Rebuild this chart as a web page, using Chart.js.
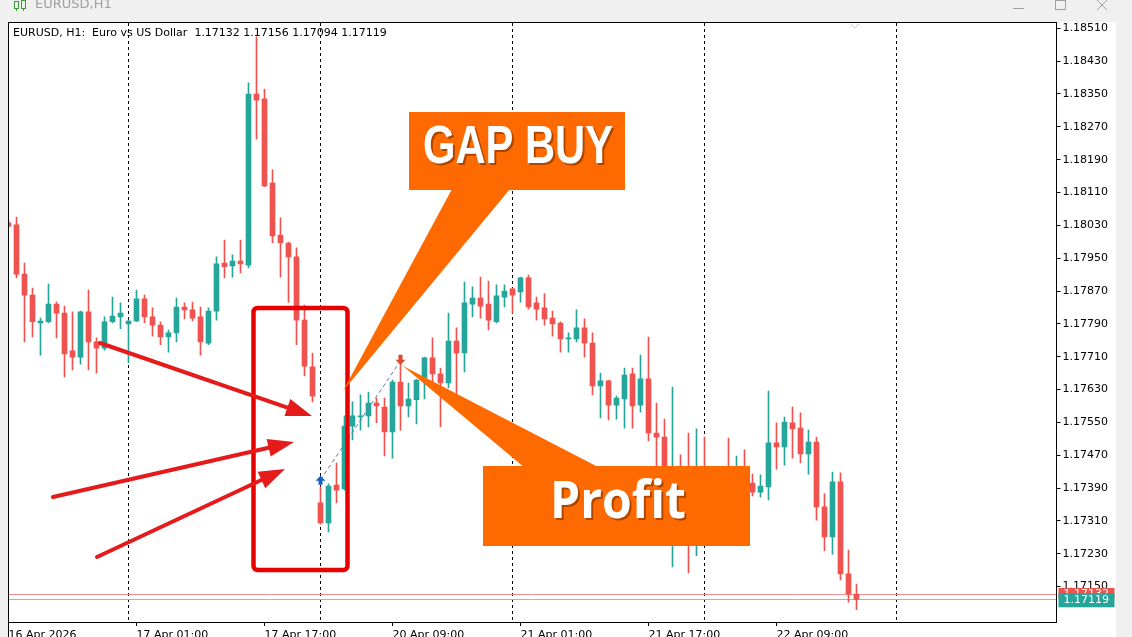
<!DOCTYPE html>
<html>
<head>
<meta charset="utf-8">
<title>EURUSD,H1</title>
<script src="https://cdn.jsdelivr.net/npm/chart.js@4.4.1/dist/chart.umd.min.js"></script>
<style>
  html, body { margin: 0; padding: 0; background: #f0f0f0; }
  #wrap { width: 1132px; height: 637px; }
</style>
</head>
<body>
<div id="wrap"><canvas id="chart" width="1132" height="637"></canvas></div>
<script>
// EURUSD H1 candles, first bar 16 Apr 2026 09:00
const opens = [
  1.18036, 1.18031, 1.17911, 1.17860, 1.17792, 1.17795, 1.17838, 1.17816, 1.17724, 1.17709,
  1.17819, 1.17746, 1.17731, 1.17795, 1.17807, 1.17790, 1.17797, 1.17851, 1.17807, 1.17787,
  1.17758, 1.17768, 1.17831, 1.17824, 1.17807, 1.17743, 1.17821, 1.17938, 1.17931, 1.17943,
  1.17933, 1.18350, 1.18338, 1.18133, 1.18006, 1.17987, 1.17953, 1.17799, 1.17685, 1.17354,
  1.17305, 1.17397, 1.17388, 1.17541, 1.17563, 1.17566, 1.17597, 1.17587, 1.17527, 1.17648,
  1.17590, 1.17605, 1.17658, 1.17707, 1.17668, 1.17646, 1.17748, 1.17719, 1.17838, 1.17853,
  1.17838, 1.17795, 1.17855, 1.17875, 1.17868, 1.17902, 1.17841, 1.17829, 1.17804, 1.17792,
  1.17753, 1.17753, 1.17780, 1.17743, 1.17639, 1.17651, 1.17592, 1.17607, 1.17668, 1.17592,
  1.17656, 1.17524, 1.17514, 1.17361, 1.17397, 1.17312, 1.17251, 1.17337, 1.17288, 1.17361,
  1.17385, 1.17354, 1.17410, 1.17402, 1.17380, 1.17393, 1.17500, 1.17490, 1.17549, 1.17536,
  1.17473, 1.17502, 1.17344, 1.17271, 1.17405, 1.17181, 1.17132
];
const highs = [
  1.18043, 1.18050, 1.17938, 1.17877, 1.17804, 1.17887, 1.17843, 1.17833, 1.17819, 1.17821,
  1.17872, 1.17756, 1.17807, 1.17855, 1.17841, 1.17799, 1.17872, 1.17860, 1.17829, 1.17795,
  1.17775, 1.17853, 1.17841, 1.17843, 1.17831, 1.17829, 1.17953, 1.17994, 1.17958, 1.17994,
  1.18377, 1.18489, 1.18362, 1.18165, 1.18048, 1.17989, 1.17975, 1.17836, 1.17719, 1.17393,
  1.17400, 1.17451, 1.17566, 1.17600, 1.17617, 1.17624, 1.17609, 1.17609, 1.17653, 1.17695,
  1.17646, 1.17655, 1.17709, 1.17756, 1.17682, 1.17816, 1.17780, 1.17892, 1.17880, 1.17904,
  1.17894, 1.17885, 1.17885, 1.17877, 1.17904, 1.17909, 1.17855, 1.17863, 1.17821, 1.17795,
  1.17768, 1.17824, 1.17802, 1.17768, 1.17670, 1.17653, 1.17614, 1.17682, 1.17682, 1.17714,
  1.17758, 1.17597, 1.17558, 1.17636, 1.17471, 1.17524, 1.17534, 1.17514, 1.17434, 1.17422,
  1.17512, 1.17468, 1.17483, 1.17424, 1.17422, 1.17626, 1.17549, 1.17563, 1.17587, 1.17573,
  1.17531, 1.17514, 1.17376, 1.17429, 1.17427, 1.17239, 1.17156
];
const lows = [
  1.18024, 1.17902, 1.17746, 1.17758, 1.17714, 1.17792, 1.17756, 1.17661, 1.17678, 1.17692,
  1.17678, 1.17670, 1.17726, 1.17792, 1.17778, 1.17695, 1.17795, 1.17792, 1.17760, 1.17739,
  1.17721, 1.17746, 1.17802, 1.17797, 1.17714, 1.17739, 1.17799, 1.17902, 1.17904, 1.17914,
  1.17926, 1.18240, 1.18124, 1.17987, 1.17904, 1.17843, 1.17739, 1.17663, 1.17600, 1.17302,
  1.17283, 1.17354, 1.17385, 1.17507, 1.17531, 1.17539, 1.17549, 1.17468, 1.17463, 1.17531,
  1.17563, 1.17546, 1.17607, 1.17641, 1.17539, 1.17634, 1.17612, 1.17673, 1.17807, 1.17804,
  1.17775, 1.17792, 1.17831, 1.17816, 1.17843, 1.17826, 1.17799, 1.17787, 1.17760, 1.17721,
  1.17721, 1.17746, 1.17709, 1.17617, 1.17561, 1.17556, 1.17558, 1.17536, 1.17536, 1.17575,
  1.17505, 1.17434, 1.17354, 1.17198, 1.17288, 1.17183, 1.17225, 1.17263, 1.17276, 1.17337,
  1.17337, 1.17344, 1.17373, 1.17371, 1.17368, 1.17361, 1.17436, 1.17446, 1.17463, 1.17451,
  1.17424, 1.17312, 1.17237, 1.17229, 1.17166, 1.17112, 1.17094
];
const closes = [
  1.18028, 1.17911, 1.17860, 1.17795, 1.17797, 1.17838, 1.17816, 1.17717, 1.17709, 1.17819,
  1.17746, 1.17731, 1.17795, 1.17809, 1.17816, 1.17797, 1.17851, 1.17807, 1.17787, 1.17758,
  1.17768, 1.17831, 1.17824, 1.17804, 1.17746, 1.17821, 1.17936, 1.17929, 1.17943, 1.17936,
  1.18350, 1.18335, 1.18126, 1.18004, 1.17987, 1.17953, 1.17799, 1.17687, 1.17614, 1.17305,
  1.17395, 1.17385, 1.17541, 1.17566, 1.17566, 1.17597, 1.17590, 1.17527, 1.17648, 1.17590,
  1.17607, 1.17653, 1.17707, 1.17668, 1.17646, 1.17748, 1.17719, 1.17841, 1.17853, 1.17833,
  1.17799, 1.17858, 1.17870, 1.17860, 1.17902, 1.17831, 1.17826, 1.17802, 1.17790, 1.17753,
  1.17756, 1.17780, 1.17743, 1.17639, 1.17651, 1.17592, 1.17609, 1.17665, 1.17590, 1.17656,
  1.17524, 1.17514, 1.17361, 1.17397, 1.17312, 1.17251, 1.17337, 1.17288, 1.17361, 1.17385,
  1.17354, 1.17410, 1.17400, 1.17380, 1.17395, 1.17500, 1.17490, 1.17551, 1.17534, 1.17473,
  1.17502, 1.17344, 1.17271, 1.17405, 1.17181, 1.17132, 1.17119
];

// axis
const yTicks = [1.17150, 1.17230, 1.17310, 1.17390, 1.17470, 1.17550, 1.17630, 1.17710,
                1.17790, 1.17870, 1.17950, 1.18030, 1.18110, 1.18190, 1.18270, 1.18350,
                1.18430, 1.18510];
const yMin = 1.170637;
const yMax = 1.185253;
const slotCount = 132;              // visible hourly slots, incl. empty space on the right
const tickSlots = [0, 16, 32, 48, 64, 80, 96];
const tickLabels = ['16 Apr 2026', '17 Apr 01:00', '17 Apr 17:00', '20 Apr 09:00',
                    '21 Apr 01:00', '21 Apr 17:00', '22 Apr 09:00'];
const daySeparators = [15, 39, 63, 87, 111];

// price lines and the trade
const bidPrice = 1.17119;
const askPrice = 1.17132;
const tradeSlots = [39, 49];
const tradePrices = [1.17410, 1.17700];

const upColor = '#26a69a';
const downColor = '#ef5350';

// hourly category labels (weekend hours skipped)
const months = ['Jan','Feb','Mar','Apr','May','Jun','Jul','Aug','Sep','Oct','Nov','Dec'];
const slotLabels = [];
for (let t = Date.UTC(2026, 3, 16, 9); slotLabels.length < slotCount; t += 3600000) {
    const d = new Date(t);
    const wd = d.getUTCDay();
    if (wd === 0 || wd === 6) continue;
    slotLabels.push(d.getUTCDate() + ' ' + months[d.getUTCMonth()] + ' ' +
        String(d.getUTCHours()).padStart(2, '0') + ':00');
}

const candleColors = opens.map((o, i) => closes[i] >= o ? upColor : downColor);
const tradeLine = slotLabels.map(() => null);
tradeSlots.forEach((s, k) => { tradeLine[s] = tradePrices[k]; });

const FONT = '"DejaVu Sans", sans-serif';

function arrow(ctx, x1, y1, x2, y2, head, half) {
    const a = Math.atan2(y2 - y1, x2 - x1);
    const bx = x2 - head * Math.cos(a), by = y2 - head * Math.sin(a);
    ctx.beginPath();
    ctx.moveTo(x1, y1);
    ctx.lineTo(bx, by);
    ctx.stroke();
    ctx.beginPath();
    ctx.moveTo(x2, y2);
    ctx.lineTo(bx + half * Math.sin(a), by - half * Math.cos(a));
    ctx.lineTo(bx - half * Math.sin(a), by + half * Math.cos(a));
    ctx.closePath();
    ctx.fill();
}

function callout(ctx, box, tail, text, font, maxW, baseX, baseY) {
    ctx.fillStyle = '#ff6a00';
    ctx.beginPath();
    ctx.moveTo(tail[0][0], tail[0][1]);
    tail.slice(1).forEach(p => ctx.lineTo(p[0], p[1]));
    ctx.closePath();
    ctx.fill();
    ctx.fillRect(box[0], box[1], box[2], box[3]);
    ctx.font = font;
    ctx.textAlign = 'center';
    ctx.textBaseline = 'alphabetic';
    ctx.fillStyle = 'rgba(110,40,0,0.55)';
    ctx.fillText(text, baseX + 2, baseY + 2, maxW);
    ctx.fillStyle = '#fff';
    ctx.fillText(text, baseX, baseY, maxW);
}

const mtPlugin = {
    id: 'mt',
    beforeDraw(chart) {
        const ctx = chart.ctx;
        ctx.save();
        ctx.fillStyle = '#f0f0f0';
        ctx.fillRect(0, 0, chart.width, chart.height);
        ctx.fillStyle = '#ffffff';
        ctx.fillRect(8, 22, 1108, 615);
        // window title bar
        ctx.strokeStyle = '#3c9a3c';
        ctx.lineWidth = 1;
        ctx.strokeRect(14.5, 1.5, 4, 7);
        ctx.strokeRect(21.5, 0.5, 4, 8);
        ctx.beginPath();
        ctx.moveTo(16.5, 8.5); ctx.lineTo(16.5, 11);
        ctx.moveTo(23.5, 8.5); ctx.lineTo(23.5, 11);
        ctx.stroke();
        ctx.fillStyle = '#a0a0a0';
        ctx.font = '13px ' + FONT;
        ctx.textBaseline = 'middle';
        ctx.fillText('EURUSD,H1', 35, 5);
        ctx.strokeStyle = '#a0a0a0';
        ctx.beginPath();
        ctx.moveTo(1013, 8.5); ctx.lineTo(1024, 8.5);
        ctx.stroke();
        ctx.strokeRect(1055.5, 0.5, 10, 9);
        ctx.beginPath();
        ctx.moveTo(1097, 0); ctx.lineTo(1107, 10);
        ctx.moveTo(1107, 0); ctx.lineTo(1097, 10);
        ctx.stroke();
        ctx.restore();
    },
    beforeDatasetsDraw(chart) {
        const ctx = chart.ctx;
        const a = chart.chartArea;
        const xs = chart.scales.x, ys = chart.scales.y;
        ctx.save();
        // day separators
        ctx.strokeStyle = '#000';
        ctx.lineWidth = 1;
        ctx.setLineDash([3, 3]);
        daySeparators.forEach(s => {
            const x = Math.floor(xs.getPixelForValue(s)) + 0.5;
            ctx.beginPath();
            ctx.moveTo(x, a.top + 1);
            ctx.lineTo(x, a.bottom);
            ctx.stroke();
        });
        ctx.setLineDash([]);
        // ask / bid lines
        const ay = Math.round(ys.getPixelForValue(askPrice)) + 0.5;
        const by = Math.round(ys.getPixelForValue(bidPrice)) + 0.5;
        ctx.strokeStyle = '#f09090';
        ctx.beginPath(); ctx.moveTo(a.left, ay); ctx.lineTo(a.right, ay); ctx.stroke();
        ctx.strokeStyle = '#7cc6cc';
        ctx.beginPath(); ctx.moveTo(a.left, by); ctx.lineTo(a.right, by); ctx.stroke();
        // header
        ctx.fillStyle = '#000';
        ctx.font = '11px ' + FONT;
        ctx.textBaseline = 'middle';
        ctx.fillText('EURUSD, H1:  Euro vs US Dollar  ' +
            [opens[opens.length - 1], highs[highs.length - 1], lows[lows.length - 1],
             closes[closes.length - 1]].map(v => v.toFixed(5)).join(' '), 13, 33);
        // one-click panel chevron
        ctx.strokeStyle = '#c8c8c8';
        ctx.beginPath();
        ctx.moveTo(851, 24); ctx.lineTo(855, 28); ctx.lineTo(859, 24);
        ctx.stroke();
        ctx.restore();
    },
    afterDraw(chart) {
        const ctx = chart.ctx;
        const a = chart.chartArea;
        const xs = chart.scales.x, ys = chart.scales.y;
        ctx.save();
        // frame
        ctx.strokeStyle = '#000';
        ctx.lineWidth = 1;
        ctx.strokeRect(a.left, a.top + 0.5, a.right - a.left, a.bottom - a.top);
        ctx.beginPath();
        ctx.moveTo(a.left, a.bottom); ctx.lineTo(a.left, chart.height);
        ctx.stroke();

        // trade arrows
        const ex = xs.getPixelForValue(tradeSlots[0]), ey = ys.getPixelForValue(tradePrices[0]);
        ctx.fillStyle = '#1a5fc0';
        ctx.beginPath();
        ctx.moveTo(ex, ey - 4); ctx.lineTo(ex + 5, ey + 1); ctx.lineTo(ex + 2, ey + 1);
        ctx.lineTo(ex + 2, ey + 5); ctx.lineTo(ex - 2, ey + 5); ctx.lineTo(ex - 2, ey + 1);
        ctx.lineTo(ex - 5, ey + 1); ctx.closePath(); ctx.fill();
        const qx = xs.getPixelForValue(tradeSlots[1]), qy = ys.getPixelForValue(tradePrices[1]);
        ctx.fillStyle = '#e04a30';
        ctx.beginPath();
        ctx.moveTo(qx, qy + 4); ctx.lineTo(qx + 5, qy - 1); ctx.lineTo(qx + 2, qy - 1);
        ctx.lineTo(qx + 2, qy - 6); ctx.lineTo(qx - 2, qy - 6); ctx.lineTo(qx - 2, qy - 1);
        ctx.lineTo(qx - 5, qy - 1); ctx.closePath(); ctx.fill();

        // red box around the gap
        ctx.strokeStyle = '#e80000';
        ctx.lineWidth = 4.5;
        ctx.beginPath();
        ctx.roundRect(253.5, 308, 94, 262, 4);
        ctx.stroke();

        // red pointer arrows
        ctx.strokeStyle = '#e51b1b';
        ctx.fillStyle = '#e51b1b';
        ctx.lineWidth = 4;
        ctx.lineCap = 'round';
        arrow(ctx, 100, 343, 312, 416, 26, 9);
        arrow(ctx, 53, 497, 294, 442, 26, 9);
        arrow(ctx, 97, 557, 285, 469, 26, 9);
        ctx.lineCap = 'butt';

        // callouts
        callout(ctx, [409, 112, 216, 78], [[452, 189], [510, 189], [343, 391]],
            'GAP BUY', 'bold 53px "Liberation Sans", sans-serif', 190, 518, 163);
        callout(ctx, [483, 466, 267, 80], [[403, 366], [600, 468], [525, 468]],
            'Profit', 'bold 52px "Open Sans", sans-serif', 136, 618, 518);

        // price labels on the axis
        ctx.font = '11px ' + FONT;
        ctx.textAlign = 'left';
        ctx.textBaseline = 'middle';
        const ay = ys.getPixelForValue(askPrice);
        ctx.fillStyle = downColor;
        ctx.fillRect(a.right + 2, ay - 6, 56, 11);
        ctx.fillStyle = '#fff';
        ctx.fillText(askPrice.toFixed(5), a.right + 7, ay);
        const by = ys.getPixelForValue(bidPrice);
        ctx.fillStyle = upColor;
        ctx.fillRect(a.right + 2, by - 6, 56, 14);
        ctx.fillStyle = '#fff';
        ctx.fillText(bidPrice.toFixed(5), a.right + 7, by + 1);
        ctx.restore();
    }
};

const ctx = document.getElementById('chart').getContext('2d');
const chart = new Chart(ctx, {
    type: 'bar',
    data: {
        labels: slotLabels,
        datasets: [
            {
                type: 'line',
                data: tradeLine,
                spanGaps: true,
                borderColor: '#5a7bb0',
                borderWidth: 1,
                borderDash: [4, 3],
                pointRadius: 0,
                order: 0
            },
            {
                label: 'bodies',
                data: opens.map((o, i) => [o, closes[i]]),
                backgroundColor: candleColors,
                barThickness: 5,
                minBarLength: 1,
                grouped: false,
                order: 1
            },
            {
                label: 'wicks',
                data: lows.map((l, i) => [l, highs[i]]),
                backgroundColor: candleColors,
                barThickness: 1,
                grouped: false,
                order: 2
            }
        ]
    },
    options: {
        responsive: false,
        animation: false,
        events: [],
        layout: { padding: { left: 8.5, top: 22, right: 0, bottom: 0 } },
        plugins: { legend: { display: false }, tooltip: { enabled: false } },
        scales: {
            x: {
                type: 'category',
                offset: false,
                grid: {
                    offset: false,
                    drawOnChartArea: false,
                    tickLength: 4,
                    color: c => tickSlots.includes(c.index) ? '#000' : 'rgba(0,0,0,0)'
                },
                border: { display: false },
                ticks: {
                    autoSkip: false,
                    maxRotation: 0,
                    minRotation: 0,
                    align: 'start',
                    padding: 3,
                    color: '#000',
                    font: { family: 'DejaVu Sans', size: 11 },
                    callback: (v, i) => {
                        const k = tickSlots.indexOf(i);
                        return k >= 0 ? tickLabels[k] : '';
                    }
                },
                afterFit: s => { s.height = 15; }
            },
            y: {
                position: 'right',
                min: yMin,
                max: yMax,
                afterBuildTicks: s => { s.ticks = yTicks.map(v => ({ value: v })); },
                afterFit: s => { s.width = 75.5; },
                grid: { drawOnChartArea: false, tickLength: 4, color: '#000' },
                border: { display: false },
                ticks: {
                    padding: 2,
                    color: '#000',
                    font: { family: 'DejaVu Sans', size: 11 },
                    callback: v => v.toFixed(5)
                }
            }
        }
    },
    plugins: [mtPlugin]
});
</script>
</body>
</html>
